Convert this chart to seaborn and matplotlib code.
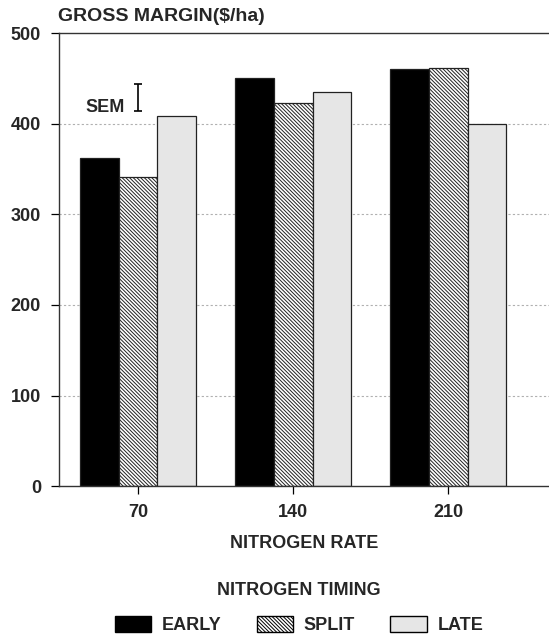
import matplotlib
matplotlib.use("Agg")
import matplotlib.pyplot as plt
import seaborn as sns
import pandas as pd
from matplotlib.patches import Patch

rates = ["70", "140", "210"]
timings = ["EARLY", "SPLIT", "LATE"]
early = [362, 450, 461]
split = [341, 423, 462]
late = [409, 435, 400]
yticks = [0, 100, 200, 300, 400, 500]
sem_value = 429
sem_half = 15

df = pd.DataFrame({
    "rate": rates * 3,
    "timing": [t for t in timings for _ in rates],
    "margin": early + split + late,
})

sns.set_style("white")
plt.rcParams["font.family"] = ["Liberation Sans", "DejaVu Sans"]
plt.rcParams["font.weight"] = "bold"
plt.rcParams["hatch.linewidth"] = 0.7

FS = 13

fig = plt.figure(figsize=(5.49, 6.38), dpi=100)
ax = fig.add_axes([0.1075, 0.238, 0.8925, 0.71])

styles = {"EARLY": ("black", ""), "SPLIT": ("white", "\\" * 9), "LATE": ("#e6e6e6", "")}
palette = {t: styles[t][0] for t in timings}

sns.barplot(data=df, x="rate", y="margin", hue="timing", order=rates,
            hue_order=timings, palette=palette, width=0.75, edgecolor="black",
            linewidth=0.9, saturation=1, legend=False, ax=ax, errorbar=None)

for cont, t in zip(ax.containers, timings):
    for bar in cont:
        bar.set_hatch(styles[t][1])
        bar.set_edgecolor("#222222")

ax.set_xlim(-0.51, 2.65)
ax.set_ylim(0, 500)
ax.set_yticks(yticks)
ax.set_yticklabels([str(v) for v in yticks], fontsize=FS, fontweight="bold")
ax.set_xticklabels(rates, fontsize=FS, fontweight="bold")
ax.tick_params(axis="both", direction="out", length=6, width=0.9, color="black",
               left=True, bottom=True, pad=7)
for v in yticks[1:-1]:
    ax.axhline(v, color="#b0b0b0", lw=0.8, ls=(0, (2, 2)), zorder=0)
ax.set_axisbelow(True)

ax.spines["right"].set_visible(False)
for s in ["left", "top", "bottom"]:
    ax.spines[s].set_color("#333333")
    ax.spines[s].set_linewidth(1.0)

ax.set_ylabel("")
ax.set_xlabel("NITROGEN RATE", fontsize=FS, fontweight="bold", labelpad=10)

fig.text(0.106, 0.974, "GROSS MARGIN($/ha)", fontsize=14, fontweight="bold",
         ha="left", va="center")

# SEM indicator
ax.errorbar([0.0], [sem_value], yerr=[sem_half], fmt="none", ecolor="black",
            elinewidth=1.2, capsize=3, capthick=1.2)
ax.text(-0.21, 418, "SEM", fontsize=FS, fontweight="bold", ha="center", va="center")

handles = [Patch(facecolor=styles[t][0], edgecolor="black", hatch=styles[t][1], label=t)
           for t in timings]
leg = fig.legend(handles=handles, loc="center", bbox_to_anchor=(0.545, 0.047), ncol=3,
                 frameon=False, fontsize=FS, handlelength=2.0, handleheight=1.0,
                 columnspacing=1.95, handletextpad=0.6,
                 title="NITROGEN TIMING", title_fontproperties={"weight": "bold", "size": FS})
leg._legend_box.sep = 12

fig.savefig("out.png", dpi=100)
